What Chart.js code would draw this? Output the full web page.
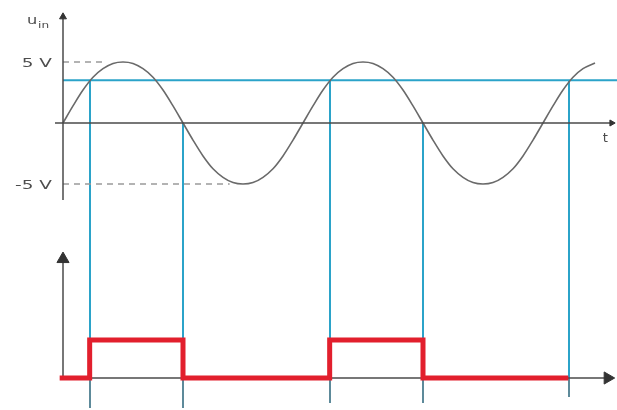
<!DOCTYPE html>
<html><head><meta charset="utf-8">
<script src="https://cdn.jsdelivr.net/npm/chart.js@4"></script>
<style>html,body{margin:0;padding:0;background:#fff;} #c{display:block;}</style>
</head><body>
<canvas id="c" width="617" height="410"></canvas>
<script>
// ---- data (x = phase angle in degrees) ----
const sineAngles = [0,15,30,45,60,75,90,105,120,135,150,165,180,195,210,225,240,255,270,285,300,315,330,345,
                    360,375,390,405,420,435,450,465,480,495,510,525,540,555,570,585,600,615,630,645,660,675,690,705,
                    720,735,750,765,780,798];
const sineVolts  = [0,1.4,2.7,3.75,4.45,4.88,5,4.88,4.45,3.75,2.7,1.4,0,-1.4,-2.7,-3.75,-4.45,-4.88,-5,-4.88,-4.45,-3.75,-2.7,-1.4,
                    0,1.4,2.7,3.75,4.45,4.88,5,4.88,4.45,3.75,2.7,1.4,0,-1.4,-2.7,-3.75,-4.45,-4.88,-5,-4.88,-4.45,-3.75,-2.7,-1.4,
                    0,1.4,2.7,3.75,4.45,4.92];
const thresholdVolts = 3.5;
const refVolts = [5, -5];
const refLabels = ['5 V', '-5 V'];
const refDashEnd = [60, 250];
const switchAngles = [40, 180, 400, 540, 759];
const switchStartVolts = [3.5, 0, 3.5, 0, 3.5];
const switchEndLevels = [-0.79, -0.79, -0.66, -0.66, -0.5];
const outAngles = [-5, 40, 180, 400, 540, 758];
const outLevels = [0, 1, 0, 1, 0, 0];
const axisTitleY = 'u';
const axisTitleYSub = 'in';
const axisTitleX = 't';

// axis extents
const topAxisV = [-6.3, 8.7];
const topAxisT = [-12, 823];
const botAxisL = [0, 3.13];
const botAxisT = [-4.5, 817];

const CYAN = '#2ba3c9', GRAY = '#6a6a6a', AX = '#4a4a4a', RED = '#e21f2d';

const pts = (xs, ys) => xs.map((x, i) => ({x, y: ys[i]}));
const line = (data, extra) => Object.assign({
  data, borderColor: AX, borderWidth: 1.5, pointRadius: 0, tension: 0, fill: false
}, extra);
const arrow = (x, y, axis, r, rot) => ({
  data: [{x, y}], yAxisID: axis, showLine: false, pointStyle: 'triangle',
  pointRadius: r, pointRotation: rot, pointBackgroundColor: '#333',
  pointBorderColor: '#333', pointBorderWidth: 1, order: 0
});

const datasets = [
  line(pts(outAngles, outLevels), {yAxisID: 'y2', stepped: true, borderColor: RED, borderWidth: 5, borderJoinStyle: 'miter', order: 1}),
  line(pts(topAxisT, [0, 0]), {yAxisID: 'y', order: 2}),
  line(pts([0, 0], topAxisV), {yAxisID: 'y', order: 2}),
  line(pts(botAxisT, [0, 0]), {yAxisID: 'y2', order: 2}),
  line(pts([0, 0], botAxisL), {yAxisID: 'y2', order: 2}),
  arrow(0, topAxisV[1], 'y', 4, 0),
  arrow(topAxisT[1], 0, 'y', 3.5, 90),
  arrow(0, botAxisL[1], 'y2', 7, 0),
  arrow(botAxisT[1], 0, 'y2', 7, 90),
  line(pts(sineAngles, sineVolts), {yAxisID: 'y', borderColor: GRAY, borderWidth: 1.6, cubicInterpolationMode: 'monotone', order: 3}),
  line(pts([0, 831], [thresholdVolts, thresholdVolts]), {yAxisID: 'y', borderColor: CYAN, borderWidth: 2, order: 4}),
  line(pts([0, refDashEnd[0]], [refVolts[0], refVolts[0]]), {yAxisID: 'y', borderColor: '#9a9a9a', borderWidth: 1.5, borderDash: [6, 5], order: 5}),
  line(pts([0, refDashEnd[1]], [refVolts[1], refVolts[1]]), {yAxisID: 'y', borderColor: '#9a9a9a', borderWidth: 1.5, borderDash: [6, 5], order: 5})
];

function sText(ctx, text, x, y, font, align, sx) {
  ctx.save(); ctx.font = font; ctx.textAlign = align; ctx.textBaseline = 'alphabetic';
  ctx.translate(x, y); ctx.scale(sx, 1); ctx.fillText(text, 0, 0); ctx.restore();
}

const deco = {
  id: 'deco',
  beforeDatasetsDraw(chart) {
    const {ctx, scales: {x, y, y2}} = chart;
    ctx.save();
    ctx.lineWidth = 2;
    switchAngles.forEach((a, i) => {
      const px = Math.round(x.getPixelForValue(a));
      const top = y.getPixelForValue(switchStartVolts[i]);
      const mid = y2.getPixelForValue(0);
      const bot = y2.getPixelForValue(switchEndLevels[i]);
      ctx.strokeStyle = CYAN;
      ctx.beginPath(); ctx.moveTo(px, top); ctx.lineTo(px, mid); ctx.stroke();
      ctx.strokeStyle = '#5d8a9a';
      ctx.beginPath(); ctx.moveTo(px, mid); ctx.lineTo(px, bot); ctx.stroke();
    });
    ctx.restore();
  },
  afterDraw(chart) {
    const {ctx, scales: {x, y}} = chart;
    const x0 = x.getPixelForValue(0);
    ctx.save();
    ctx.fillStyle = '#4d4d4d';
    refVolts.forEach((v, i) => {
      sText(ctx, refLabels[i], x0 - 11, y.getPixelForValue(v) + 5, '13px "DejaVu Sans"', 'right', 1.42);
    });
    const yt = y.getPixelForValue(topAxisV[1]);
    sText(ctx, axisTitleY, x0 - 36, yt + 7, '12px "DejaVu Sans"', 'left', 1.35);
    sText(ctx, axisTitleYSub, x0 - 25, yt + 11, '9px "DejaVu Sans"', 'left', 1.35);
    sText(ctx, axisTitleX, x.getPixelForValue(topAxisT[1]) - 9, y.getPixelForValue(0) + 19, '12px "DejaVu Sans"', 'left', 1.1);
    ctx.restore();
  }
};

new Chart(document.getElementById('c'), {
  type: 'line',
  data: {datasets},
  options: {
    responsive: false, animation: false, events: [],
    layout: {padding: 0, autoPadding: false},
    plugins: {legend: {display: false}, tooltip: {enabled: false}, title: {display: false}},
    scales: {
      x: {type: 'linear', min: -94.5, max: 831, display: false},
      y: {type: 'linear', min: -23.52, max: 10.08, display: false},
      y2: {type: 'linear', min: -0.842, max: 9.947, display: false}
    }
  },
  plugins: [deco]
});
</script>
</body></html>
